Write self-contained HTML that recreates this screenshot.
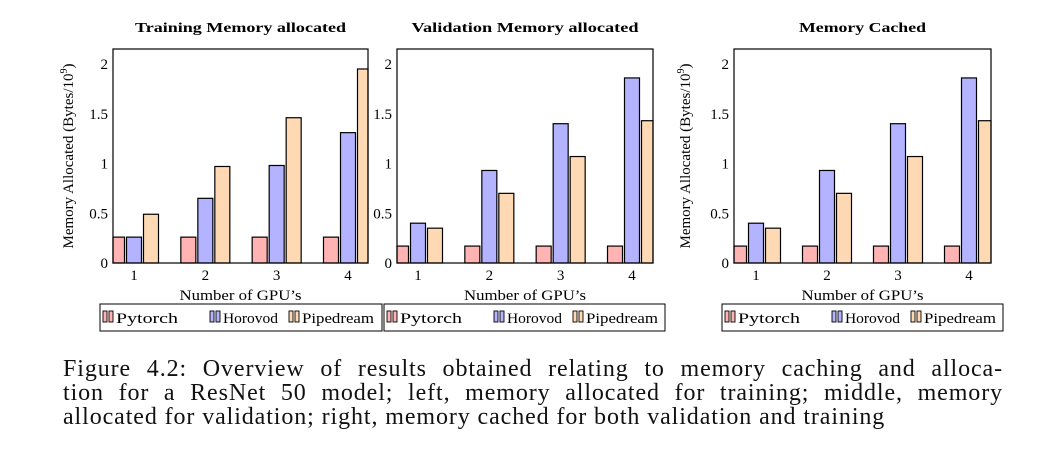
<!DOCTYPE html>
<html><head><meta charset="utf-8"><style>
html,body{margin:0;padding:0;background:#fff;width:1041px;height:472px;overflow:hidden}
svg{position:absolute;left:0;top:0}
text{font-family:"Liberation Serif",serif;fill:#000}
.cap{position:absolute;left:63px;width:940px;font-family:"Liberation Serif",serif;font-size:24px;letter-spacing:0.9px;color:#111;white-space:nowrap}
.j{text-align:justify;text-align-last:justify}
</style></head><body>
<svg id="chart" width="1041" height="472"></svg>
<div class="cap j" style="top:356px">Figure 4.2: Overview of results obtained relating to memory caching and alloca-</div>
<div class="cap j" style="top:380px">tion for a ResNet 50 model; left, memory allocated for training; middle, memory</div>
<div class="cap" style="top:404px">allocated for validation; right, memory cached for both validation and training</div>
<script>
const categories=[1,2,3,4];
const seriesNames=["Pytorch","Horovod","Pipedream"];
const trainPytorch=[0.26,0.26,0.26,0.26];
const trainHorovod=[0.26,0.65,0.98,1.31];
const trainPipedream=[0.49,0.97,1.46,1.95];
const valPytorch=[0.17,0.17,0.17,0.17];
const valHorovod=[0.40,0.93,1.40,1.86];
const valPipedream=[0.35,0.70,1.07,1.43];
const cachePytorch=[0.17,0.17,0.17,0.17];
const cacheHorovod=[0.40,0.93,1.40,1.86];
const cachePipedream=[0.35,0.70,1.07,1.43];
const yTicks=[0,0.5,1,1.5,2];
const yTickLabels=["0","0.5","1","1.5","2"];

const NS="http://www.w3.org/2000/svg";
const svgEl=document.getElementById('chart');
const fills=["#ffb3b3","#b3b3ff","#ffd9b3"];
const legLens=[62,55,72];
function mk(tag,attrs,parent){const e=document.createElementNS(NS,tag);for(const k in attrs)e.setAttribute(k,attrs[k]);(parent||svgEl).appendChild(e);return e;}

const panels=[
 {title:"Training Memory allocated",tl:211,left:113,right:368,g1:134,g4:348,ylab:true,ylabX:73,tickX:108,legL:100,legR:382,data:[trainPytorch,trainHorovod,trainPipedream],key:"training"},
 {title:"Validation Memory allocated",tl:227,left:397,right:653,g1:418,g4:632,ylab:false,tickX:392,legL:384,legR:665,data:[valPytorch,valHorovod,valPipedream],key:"validation"},
 {title:"Memory Cached",tl:127,left:734,right:991,g1:756,g4:969,ylab:true,ylabX:690,tickX:729,legL:722,legR:1003,data:[cachePytorch,cacheHorovod,cachePipedream],key:"cached"}
];
const plotTop=49,plotBottom=263,pxPerUnit=99.5;
function yScale(v){return plotBottom-v*pxPerUnit;}

panels.forEach(p=>{
  const g=mk('g',{});
  
  
  const xScale=c=>p.g1+(c-categories[0])*(p.g4-p.g1)/(categories[categories.length-1]-categories[0]);
  const t=mk('text',{x:(p.left+p.right)/2,y:32,'text-anchor':'middle','font-size':'14','font-weight':'bold',textLength:p.tl,lengthAdjust:'spacingAndGlyphs'},g);
  t.textContent=p.title;
  
  
  p.data.forEach((arr,si)=>{
    arr.forEach((v,ci)=>{
      const cx=xScale(categories[ci])+(si-1)*17;
      const x0=Math.max(cx-7.5,p.left),x1=Math.min(cx+7.5,p.right);
      const r=mk('rect',{x:x0,y:yScale(v),width:x1-x0,height:plotBottom-yScale(v),fill:fills[si],stroke:'#000','stroke-width':'1.2'},g);
      
      
    });
  });
  const f=mk('rect',{x:p.left,y:plotTop,width:p.right-p.left,height:plotBottom-plotTop,fill:'none',stroke:'#000','stroke-width':'1.2'},g);
  
  
  yTicks.forEach((v,i)=>{
    const tl=mk('text',{x:p.tickX,y:yScale(v)+5,'text-anchor':'end','font-size':'15'},g);
    tl.textContent=yTickLabels[i];
    
    
  });
  categories.forEach(c=>{
    const tl=mk('text',{x:xScale(c),y:280,'text-anchor':'middle','font-size':'15'},g);
    tl.textContent=c;
    
    
  });
  const xl=mk('text',{x:(p.left+p.right)/2,y:300,'text-anchor':'middle','font-size':'15',textLength:122,lengthAdjust:'spacingAndGlyphs'},g);
  xl.textContent="Number of GPU’s";
  
  
  if(p.ylab){
    const yl=mk('text',{x:0,y:0,'text-anchor':'middle','font-size':'15',transform:`translate(${p.ylabX},${(plotTop+plotBottom)/2}) rotate(-90)`},g);
    yl.innerHTML='Memory Allocated (Bytes/10<tspan dy="-6" font-size="10">9</tspan><tspan dy="6">)</tspan>';
    
    
  }
  const lg=mk('rect',{x:p.legL,y:304,width:p.legR-p.legL,height:27,fill:'#fff',stroke:'#000','stroke-width':'1'},g);
  
  
  const offs=[3,110,189];
  seriesNames.forEach((n,si)=>{
    const lx=p.legL+offs[si];
    const e=mk('g',{},g);
    
    
    mk('rect',{x:lx,y:311,width:4,height:11,fill:fills[si],stroke:'#000','stroke-width':'0.9'},e);
    mk('rect',{x:lx+6,y:311,width:4,height:11,fill:fills[si],stroke:'#000','stroke-width':'0.9'},e);
    const lt=mk('text',{x:lx+13,y:323,'font-size':'15',textLength:legLens[si],lengthAdjust:'spacingAndGlyphs'},e);
    lt.textContent=n;
  });
});
</script>
</body></html>
